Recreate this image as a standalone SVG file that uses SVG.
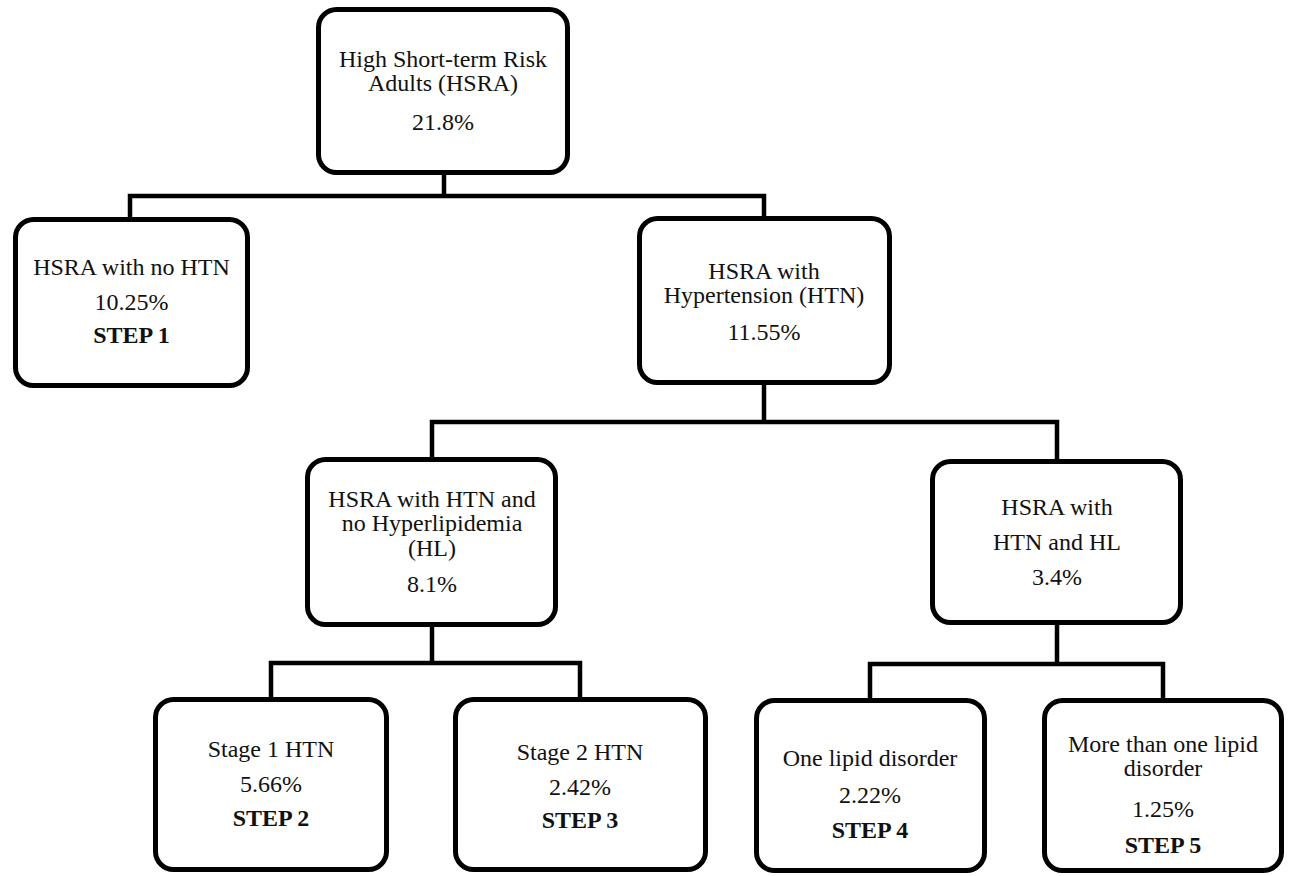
<svg xmlns="http://www.w3.org/2000/svg" width="1290" height="876" viewBox="0 0 1290 876">
<style>
.box{fill:#fff;stroke:#000;stroke-width:5}
.t{font-family:"Liberation Serif","Times New Roman",serif;font-size:24px;fill:#111;text-anchor:middle}
.b{font-weight:bold}
.c{fill:none;stroke:#000;stroke-width:4.5;stroke-linejoin:miter}
</style>
<rect width="1290" height="876" fill="#fff"/>
<g id="connectors">
<path class="c" d="M444 175V196M130 219V196H764V218"/>
<path class="c" d="M764 385V422M432 459V422H1057V461"/>
<path class="c" d="M432 627V663M271 699V663H580V699"/>
<path class="c" d="M1057 625V664M870 700V664H1163V700"/>
</g>
<g id="n-hsra">
<rect class="box" x="318.5" y="9.5" width="249" height="163" rx="18"/>
<text class="t" x="443" y="67">High Short-term Risk</text>
<text class="t" x="443" y="91">Adults (HSRA)</text>
<text class="t" x="443" y="130">21.8%</text>
</g>
<g id="n-nohtn">
<rect class="box" x="15.5" y="219.5" width="232" height="166" rx="18"/>
<text class="t" x="131.5" y="275">HSRA with no HTN</text>
<text class="t" x="131.5" y="310">10.25%</text>
<text class="t b" x="131.5" y="343">STEP 1</text>
</g>
<g id="n-htn">
<rect class="box" x="639.5" y="218.5" width="250" height="164" rx="18"/>
<text class="t" x="764" y="279">HSRA with</text>
<text class="t" x="764" y="303">Hypertension (HTN)</text>
<text class="t" x="764" y="340">11.55%</text>
</g>
<g id="n-nohl">
<rect class="box" x="307.5" y="459.5" width="248" height="165" rx="18"/>
<text class="t" x="432" y="507">HSRA with HTN and</text>
<text class="t" x="432" y="531">no Hyperlipidemia</text>
<text class="t" x="432" y="556">(HL)</text>
<text class="t" x="432" y="592">8.1%</text>
</g>
<g id="n-hl">
<rect class="box" x="932.5" y="461.5" width="248" height="161" rx="18"/>
<text class="t" x="1057" y="515">HSRA with</text>
<text class="t" x="1057" y="550">HTN and HL</text>
<text class="t" x="1057" y="585">3.4%</text>
</g>
<g id="n-stage1">
<rect class="box" x="155.5" y="699.5" width="231" height="170" rx="18"/>
<text class="t" x="271" y="757">Stage 1 HTN</text>
<text class="t" x="271" y="792">5.66%</text>
<text class="t b" x="271" y="826">STEP 2</text>
</g>
<g id="n-stage2">
<rect class="box" x="455.5" y="699.5" width="250" height="170" rx="18"/>
<text class="t" x="580" y="760">Stage 2 HTN</text>
<text class="t" x="580" y="795">2.42%</text>
<text class="t b" x="580" y="828">STEP 3</text>
</g>
<g id="n-onelipid">
<rect class="box" x="756.5" y="700.5" width="228" height="170" rx="18"/>
<text class="t" x="870" y="766">One lipid disorder</text>
<text class="t" x="870" y="803">2.22%</text>
<text class="t b" x="870" y="838">STEP 4</text>
</g>
<g id="n-morelipid">
<rect class="box" x="1044.5" y="700.5" width="237" height="170" rx="18"/>
<text class="t" x="1163" y="752">More than one lipid</text>
<text class="t" x="1163" y="776">disorder</text>
<text class="t" x="1163" y="817">1.25%</text>
<text class="t b" x="1163" y="853">STEP 5</text>
</g>
</svg>
